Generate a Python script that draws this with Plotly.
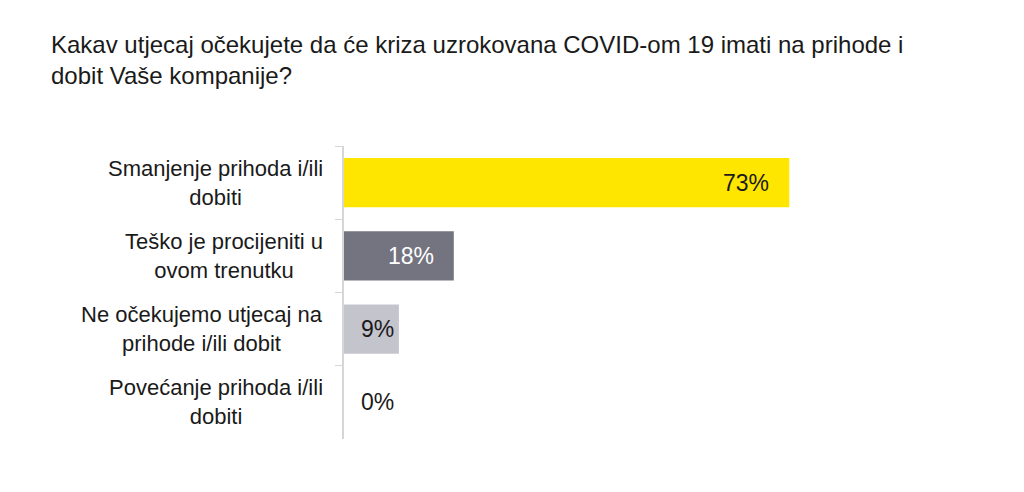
import plotly.graph_objects as go

categories = [
    "Smanjenje prihoda i/ili<br>dobiti",
    "Teško je procijeniti u<br>ovom trenutku",
    "Ne očekujemo utjecaj na<br>prihode i/ili dobit",
    "Povećanje prihoda i/ili<br>dobiti",
]
values = [73, 18, 9, 0]
bar_colors = ["#FFE600", "#747480", "#C4C4CD", "#C4C4CD"]
text_colors = ["#1A1A1A", "#FFFFFF", "#1A1A1A", "#1A1A1A"]

title = ("Kakav utjecaj očekujete da će kriza uzrokovana COVID-om 19 imati na prihode i<br>"
         "dobit Vaše kompanije?")

font_family = "Liberation Sans, Arial, sans-serif"

fig = go.Figure()
fig.add_trace(go.Bar(
    x=values,
    y=categories,
    orientation="h",
    marker=dict(color=bar_colors, line=dict(width=0)),
    width=0.67,
    hoverinfo="skip",
))

# category labels as annotations so the two lines are centred on each other
for cat in categories:
    fig.add_annotation(
        x=0, xref="paper", y=cat, yref="y",
        text=cat, showarrow=False,
        xanchor="right", xshift=-19, align="center",
        font=dict(size=22, color="#1A1A1A", family=font_family),
    )

# value labels
for cat, v, tc in zip(categories, values, text_colors):
    if v >= 15:
        fig.add_annotation(x=v, y=cat, text=f"{v}%", showarrow=False,
                           xanchor="right", xshift=-18,
                           font=dict(size=23, color=tc, family=font_family))
    else:
        fig.add_annotation(x=0, y=cat, text=f"{v}%", showarrow=False,
                           xanchor="left", xshift=15,
                           font=dict(size=23, color=tc, family=font_family))

fig.update_layout(
    width=1024, height=492,
    paper_bgcolor="white", plot_bgcolor="white",
    margin=dict(l=336, r=78, t=138, b=61),
    showlegend=False,
    font=dict(family=font_family),
    title=dict(
        text=title, xref="container", x=43 / 1024, xanchor="left",
        yref="container", y=1 - 45 / 492, yanchor="top",
        font=dict(size=24, color="#1A1A1A", family=font_family),
    ),
)
fig.update_xaxes(range=[0, 100], visible=False)
fig.update_yaxes(
    autorange="reversed",
    showticklabels=False,
    showline=True, linecolor="#D6D6D6", linewidth=1.5,
    ticks="outside", tickson="boundaries", ticklen=7, tickcolor="#D6D6D6",
    showgrid=False, zeroline=False,
)

fig.write_html("out.html")
